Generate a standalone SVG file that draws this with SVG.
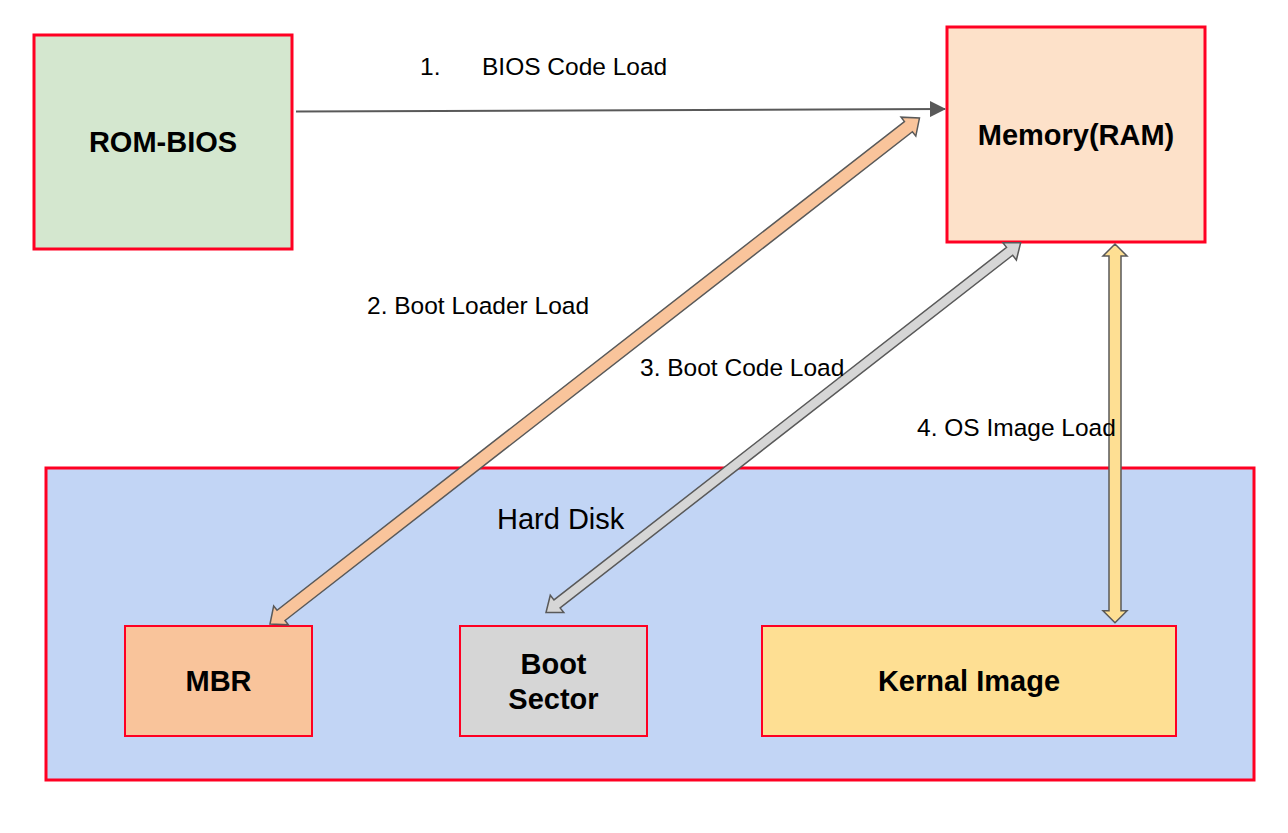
<svg xmlns="http://www.w3.org/2000/svg" width="1288" height="833" viewBox="0 0 1288 833">
<defs>
<style>
.box{stroke:#ff0022;stroke-width:3}
.small{stroke:#ff0022;stroke-width:2}
.lbl{font-family:"Liberation Sans",Arial,sans-serif;font-size:29px;font-weight:bold;fill:#000;text-anchor:middle}
.txt{font-family:"Liberation Sans",Arial,sans-serif;font-size:24.5px;fill:#000}
.blk{stroke:#595959;stroke-width:1.5;stroke-linejoin:miter}
</style>
<marker id="tri" markerWidth="16" markerHeight="16" refX="15" refY="8" orient="auto" markerUnits="userSpaceOnUse">
<path d="M0,0 L16,8 L0,16 Z" fill="#595959"/>
</marker>
</defs>
<rect width="1288" height="833" fill="#ffffff"/>
<g id="rom-bios">
<rect class="box" x="34" y="35" width="258" height="214" fill="#d4e7cf"/>
<text class="lbl" x="163" y="152">ROM-BIOS</text>
</g>
<g id="memory">
<rect class="box" x="947" y="27" width="258" height="215" fill="#fde1c9"/>
<text class="lbl" x="1076" y="145">Memory(RAM)</text>
</g>
<g id="hard-disk">
<rect class="box" x="46" y="468" width="1208" height="312" fill="#c2d5f5"/>
<text class="txt" style="font-size:29px" x="497" y="529">Hard Disk</text>
</g>
<g id="mbr">
<rect class="small" x="125" y="626" width="187" height="110" fill="#f9c49b"/>
<text class="lbl" x="218.5" y="691">MBR</text>
</g>
<g id="boot-sector">
<rect class="small" x="460" y="626" width="187" height="110" fill="#d6d6d6"/>
<text class="lbl" x="553.5" y="674">Boot</text>
<text class="lbl" x="553.5" y="709">Sector</text>
</g>
<g id="kernal-image">
<rect class="small" x="762" y="626" width="414" height="110" fill="#fedf93"/>
<text class="lbl" x="969" y="691">Kernal Image</text>
</g>
<g id="connectors">
<line x1="296" y1="111.5" x2="945" y2="109" stroke="#595959" stroke-width="2" marker-end="url(#tri)"/>
<polygon class="blk" fill="#f9c49b" transform="translate(270,624) rotate(-37.92)" points="0,0 14,-12 14,-6.5 809.3,-6.5 809.3,-12 823.3,0 809.3,12 809.3,6.5 14,6.5 14,12"/>
<polygon class="blk" fill="#d6d6d6" transform="translate(546,612.5) rotate(-37.92)" points="0,0 14,-11 14,-5 587.7,-5 587.7,-11 601.7,0 587.7,11 587.7,5 14,5 14,11"/>
<polygon class="blk" fill="#fedf93" transform="translate(1115,622.7) rotate(-90)" points="0,0 12,-12 12,-6 366.7,-6 366.7,-12 378.7,0 366.7,12 366.7,6 12,6 12,12"/>
</g>
<g id="labels">
<text class="txt" x="420" y="75">1.</text>
<text class="txt" x="482" y="75">BIOS Code Load</text>
<text class="txt" x="367" y="314">2. Boot Loader Load</text>
<text class="txt" x="640" y="376">3. Boot Code Load</text>
<text class="txt" x="917" y="436">4. OS Image Load</text>
</g>
</svg>
